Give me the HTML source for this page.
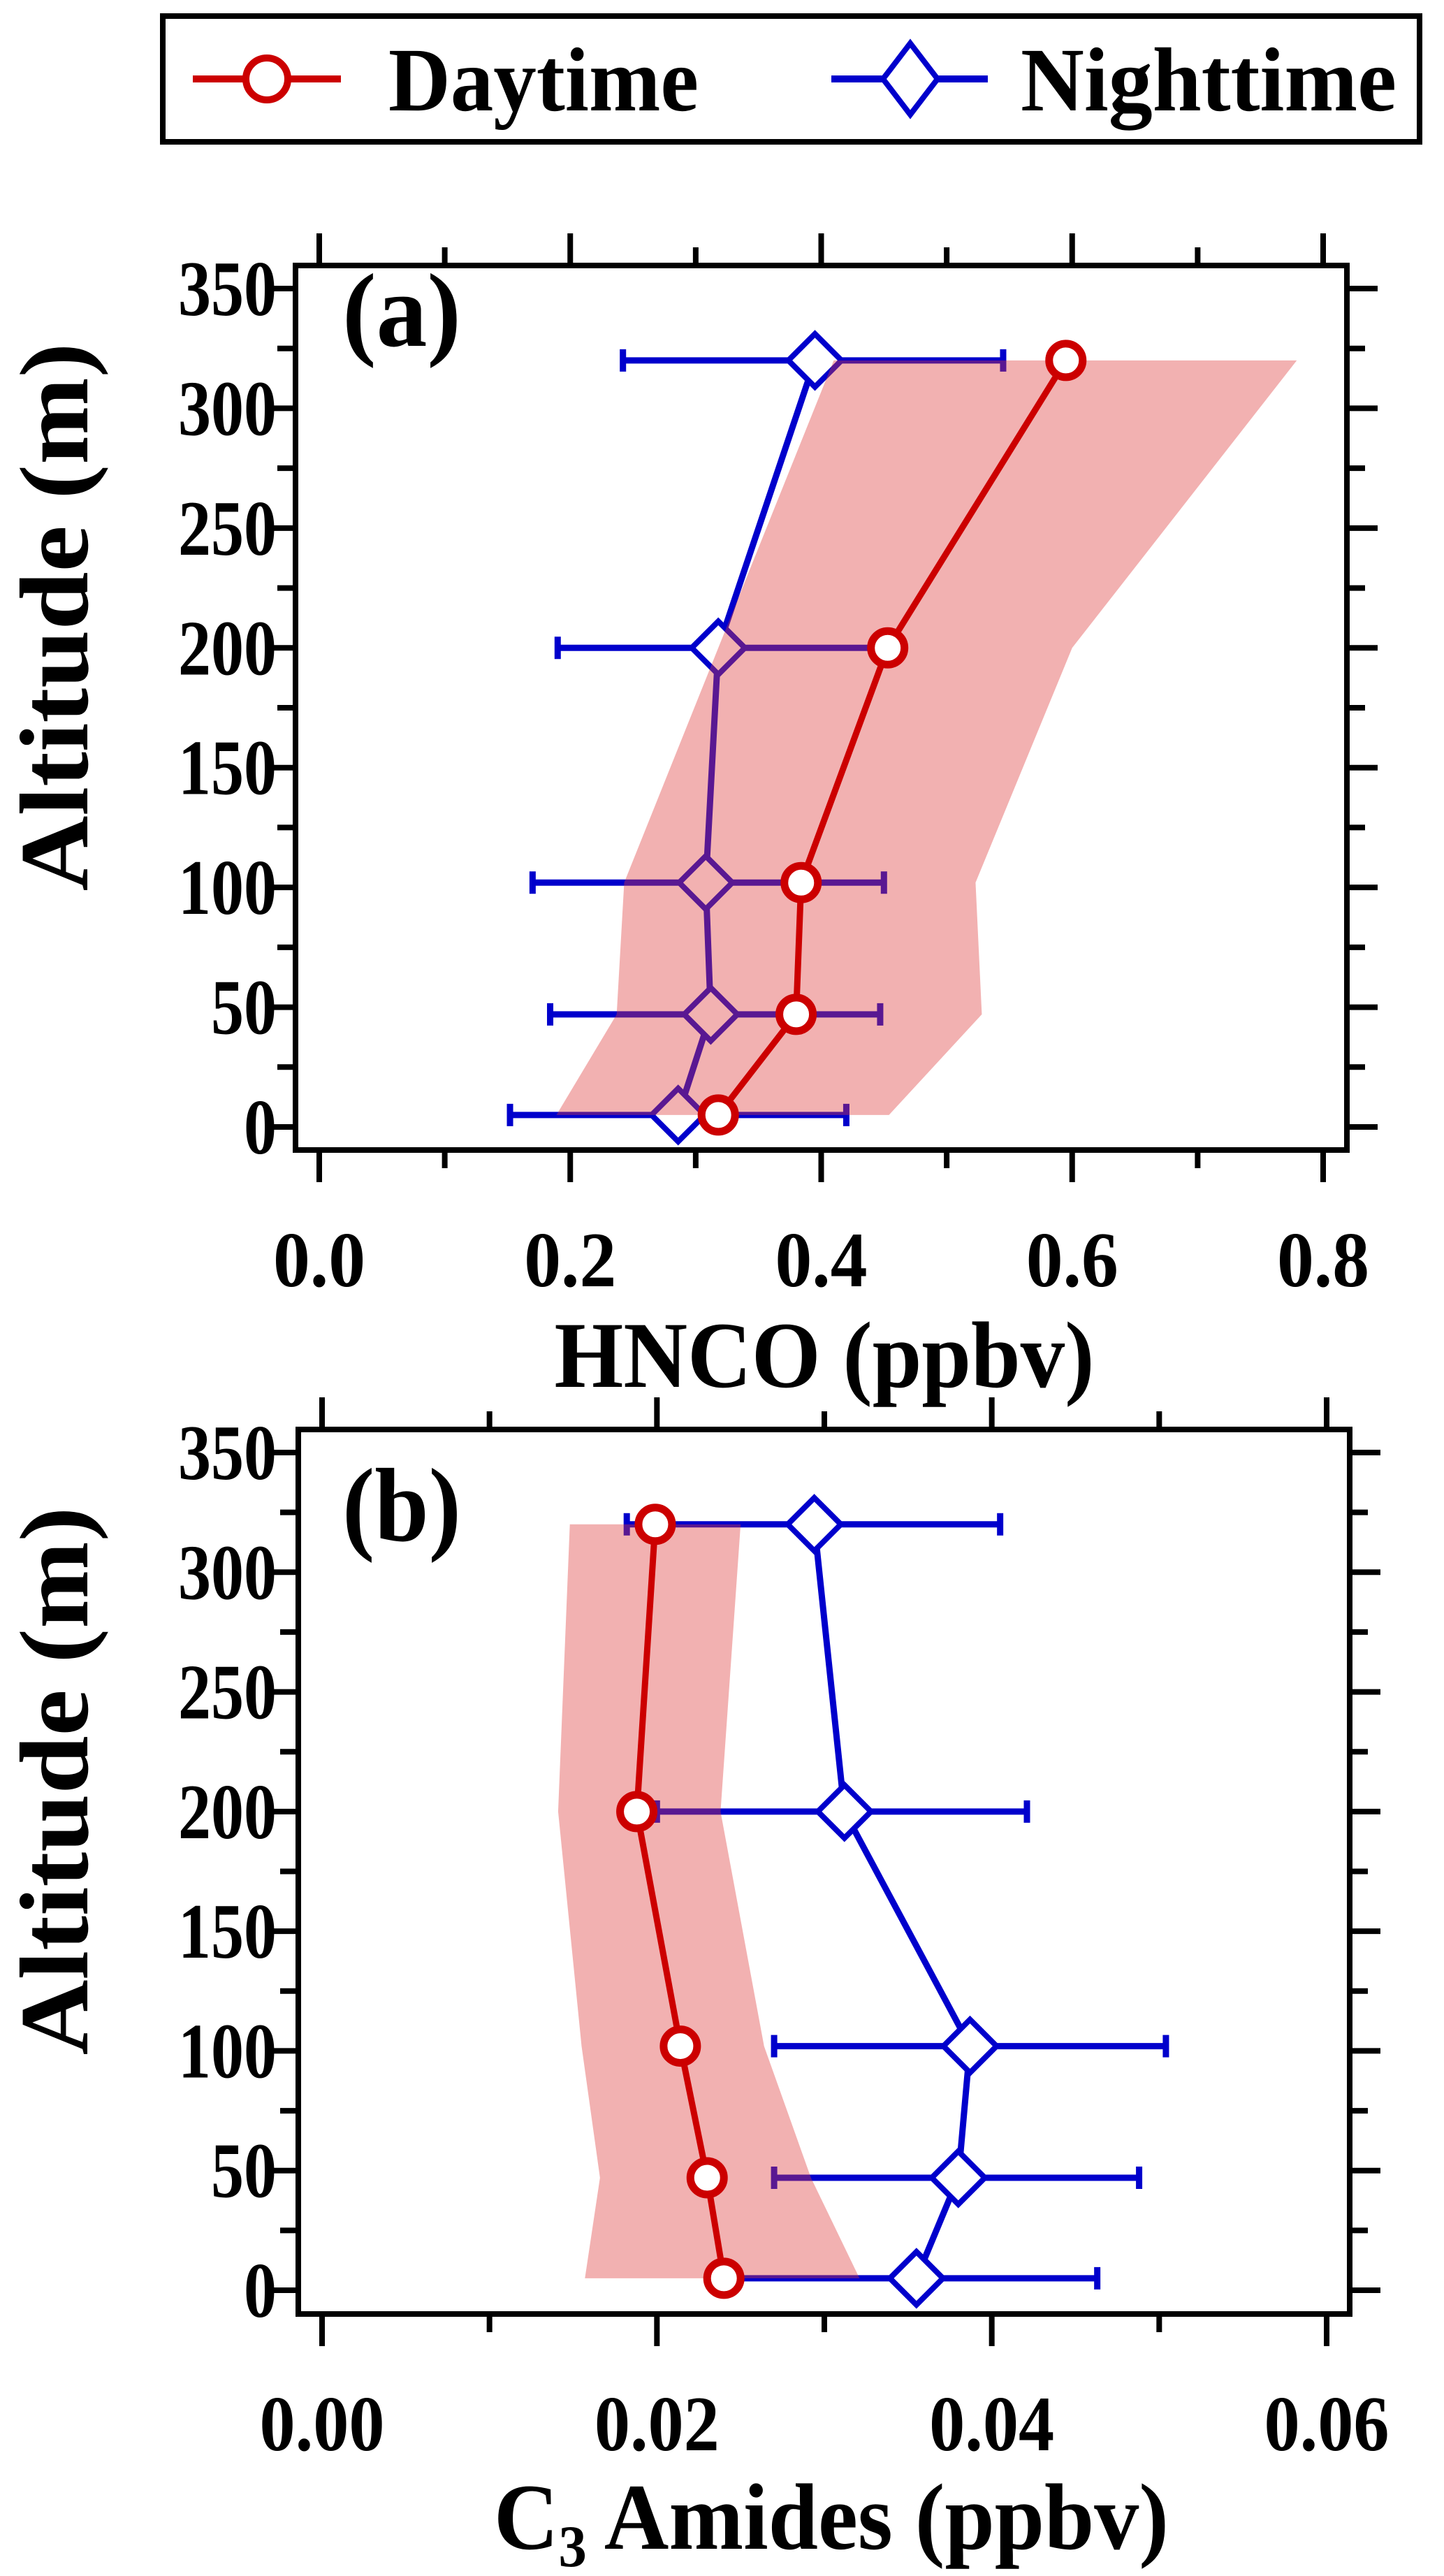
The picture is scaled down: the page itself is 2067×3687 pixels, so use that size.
<!DOCTYPE html>
<html><head><meta charset="utf-8"><style>
html,body{margin:0;padding:0;background:#fff;}
svg, svg text{font-family:"Liberation Serif","Times New Roman","DejaVu Serif",serif;font-weight:bold;}
</style></head><body>
<svg id="chart" xmlns="http://www.w3.org/2000/svg" width="2067" height="3682" viewBox="0 0 2067 3682" font-family="Liberation Serif, Times New Roman, DejaVu Serif, serif" font-weight="bold">
<g>
<rect x="233" y="23" width="1799" height="180" fill="#fff" stroke="#000" stroke-width="8"/>
<g>
<line x1="276" y1="113" x2="488" y2="113" stroke="#cc0000" stroke-width="10"/>
<circle cx="382" cy="113" r="30" fill="#fff" stroke="#cc0000" stroke-width="10"/>
<text x="556" y="158" font-size="130" textLength="444" lengthAdjust="spacingAndGlyphs">Daytime</text>
</g>
<g>
<line x1="1190" y1="113" x2="1414" y2="113" stroke="#0000cc" stroke-width="10"/>
<polygon points="1303,62 1342,113 1303,164 1264,113" fill="#fff" stroke="#0000cc" stroke-width="8"/>
<text x="1461" y="158" font-size="130" textLength="538" lengthAdjust="spacingAndGlyphs">Nighttime</text>
</g>
</g>
<g id="pa"></g>
<g id="pb"></g>
</svg>
<script>
const altitudes = [5, 47, 102, 200, 320];
const hncoDay = [0.318, 0.380, 0.384, 0.453, 0.595];
const hncoNight = [0.286, 0.312, 0.308, 0.318, 0.395];
const hncoNightLo = [0.152, 0.184, 0.170, 0.190, 0.242];
const hncoNightHi = [0.420, 0.447, 0.450, 0.446, 0.545];
const hncoBandLo = [0.189, 0.237, 0.243, 0.318, 0.41];
const hncoBandHi = [0.454, 0.528, 0.523, 0.600, 0.779];
const amDay = [0.0240, 0.0230, 0.0214, 0.0188, 0.0199];
const amNight = [0.0355, 0.0380, 0.0387, 0.0312, 0.0294];
const amNightLo = [0.0245, 0.0270, 0.0270, 0.0200, 0.0182];
const amNightHi = [0.0463, 0.0488, 0.0504, 0.0421, 0.0405];
const amBandLo = [0.0157, 0.0166, 0.0155, 0.0141, 0.0148];
const amBandHi = [0.0321, 0.0292, 0.0264, 0.0238, 0.0250];
const yTicks = [0, 50, 100, 150, 200, 250, 300, 350];
const hncoTicks = ["0.0", "0.2", "0.4", "0.6", "0.8"];
const amTicks = ["0.00", "0.02", "0.04", "0.06"];

const NS = "http://www.w3.org/2000/svg";
function mk(parent, tag, attrs, txt) {
  const e = document.createElementNS(NS, tag);
  for (const k in attrs) e.setAttribute(k, attrs[k]);
  if (txt !== undefined) e.textContent = txt;
  parent.appendChild(e);
  return e;
}
function labW(s) {
  let w = 0;
  for (const c of s) w += (c === "." ? 24 : 47);
  return w;
}

function panel(g, cfg) {
  const {L, R, T, B, x0px, x1px, xmax, y0px, y350px, ticks, minorStep, day, night, nlo, nhi, blo, bhi, label, labelY, title, titleY} = cfg;
  const xs = v => x0px + (x1px - x0px) * v / xmax;
  const ys = v => y0px + (y350px - y0px) * v / 350;
  let pts = [];
  for (let i = 0; i < altitudes.length; i++) pts.push(xs(blo[i]) + "," + ys(altitudes[i]));
  for (let i = altitudes.length - 1; i >= 0; i--) pts.push(xs(bhi[i]) + "," + ys(altitudes[i]));
  const nl = mk(g, "polyline", {points: altitudes.map((a, i) => xs(night[i]) + "," + ys(a)).join(" "), fill: "none", stroke: "#0000cc", "stroke-width": 9});
  
  
  altitudes.forEach((a, i) => {
    const y = ys(a);
    const eb = mk(g, "path", {d: `M${xs(nlo[i])},${y}H${xs(nhi[i])}M${xs(nlo[i])},${y-16}V${y+16}M${xs(nhi[i])},${y-16}V${y+16}`, stroke: "#0000cc", "stroke-width": 9, fill: "none"});
    
    
  });
  altitudes.forEach((a, i) => {
    const x = xs(night[i]), y = ys(a);
    const d = mk(g, "polygon", {points: `${x},${y-38} ${x+38},${y} ${x},${y+38} ${x-38},${y}`, fill: "#fff", stroke: "#0000cc", "stroke-width": 8});
    
    
  });
  const band = mk(g, "polygon", {points: pts.join(" "), fill: "rgb(222,60,60)", "fill-opacity": 0.4});
  
  
  const dl = mk(g, "polyline", {points: altitudes.map((a, i) => xs(day[i]) + "," + ys(a)).join(" "), fill: "none", stroke: "#cc0000", "stroke-width": 9});
  
  
  altitudes.forEach((a, i) => {
    const c = mk(g, "circle", {cx: xs(day[i]), cy: ys(a), r: 24, fill: "#fff", stroke: "#cc0000", "stroke-width": 11});
    
    
  });
  const fr = mk(g, "rect", {x: L, y: T, width: R - L, height: B - T, fill: "none", stroke: "#000", "stroke-width": 8});
  
  
  for (let v = 0; v <= 350; v += 25) {
    const y = ys(v), len = v % 50 === 0 ? 40 : 22;
    const t = mk(g, "path", {d: `M${L-4},${y}H${L-4-len}M${R+4},${y}H${R+4+len}`, stroke: "#000", "stroke-width": 8});
    
    
  }
  yTicks.forEach(v => {
    const s = String(v);
    const t = mk(g, "text", {x: 396, y: ys(v) + 38, "font-size": 112, "text-anchor": "end", textLength: labW(s), lengthAdjust: "spacingAndGlyphs"}, s);
    
    
  });
  const nMinor = Math.round(xmax / minorStep);
  for (let k = 0; k <= nMinor; k++) {
    const v = k * minorStep, x = xs(v), len = k % 2 === 0 ? 42 : 22;
    const t = mk(g, "path", {d: `M${x},${B+4}V${B+4+len}M${x},${T-4}V${T-4-len}`, stroke: "#000", "stroke-width": 8});
    
    
  }
  ticks.forEach(s => {
    const t = mk(g, "text", {x: xs(parseFloat(s)), y: B + 195, "font-size": 112, "text-anchor": "middle", textLength: labW(s) + 14, lengthAdjust: "spacingAndGlyphs"}, s);
    
    
  });
  const lab = mk(g, "text", {x: 490, y: labelY, "font-size": 150, textLength: 170, lengthAdjust: "spacingAndGlyphs"}, label);
  
  
  const yt = mk(g, "text", {x: 0, y: 0, "font-size": 140, "text-anchor": "middle", transform: `translate(125,${(T+B)/2 - 130}) rotate(-90)`, textLength: 785, lengthAdjust: "spacingAndGlyphs"}, "Altitude (m)");
  
  
  const xt = mk(g, "text", {x: title.cx, y: titleY, "font-size": 135, "text-anchor": "middle"});
  
  
  if (title.sub) {
    xt.setAttribute('textLength', 966);
    xt.setAttribute('lengthAdjust', 'spacingAndGlyphs');
    mk(xt, "tspan", {}, "C");
    mk(xt, "tspan", {"font-size": 85, dy: 25}, "3");
    mk(xt, "tspan", {dy: -25}, " Amides (ppbv)");
  } else {
    xt.setAttribute('textLength', 773);
    xt.setAttribute('lengthAdjust', 'spacingAndGlyphs');
    xt.textContent = title.text;
  }
}

panel(document.getElementById("pa"), {L: 423, R: 1928, T: 380, B: 1646, x0px: 457, x1px: 1894, xmax: 0.8,
  y0px: 1613, y350px: 413, ticks: hncoTicks, minorStep: 0.1,
  day: hncoDay, night: hncoNight, nlo: hncoNightLo, nhi: hncoNightHi, blo: hncoBandLo, bhi: hncoBandHi,
  label: "(a)", labelY: 495, title: {cx: 1180, text: "HNCO (ppbv)"}, titleY: 1985});
panel(document.getElementById("pb"), {L: 427, R: 1932, T: 2046, B: 3312, x0px: 461, x1px: 1899, xmax: 0.06,
  y0px: 3278, y350px: 2079, ticks: amTicks, minorStep: 0.01,
  day: amDay, night: amNight, nlo: amNightLo, nhi: amNightHi, blo: amBandLo, bhi: amBandHi,
  label: "(b)", labelY: 2205, title: {cx: 1190, sub: true}, titleY: 3648});
</script>
</body></html>
